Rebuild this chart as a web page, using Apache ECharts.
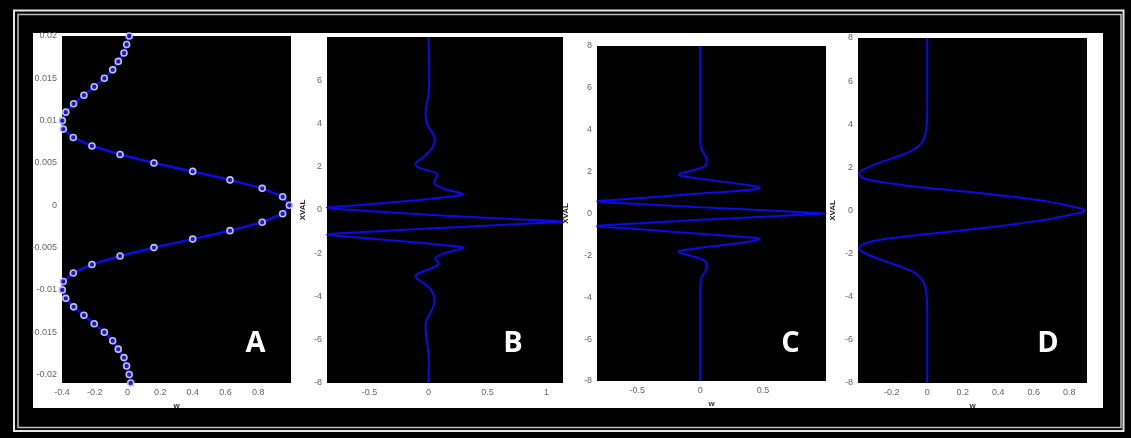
<!DOCTYPE html>
<html>
<head>
<meta charset="utf-8">
<script src="https://cdn.jsdelivr.net/npm/echarts@6/dist/echarts.min.js"></script>
<style>
  html, body { margin: 0; padding: 0; background: #000; }
  #chart { width: 1131px; height: 438px; }
</style>
</head>
<body>
<div id="chart"></div>
<script>
// ---- Panel A: sampled profile (depth vs. amplitude, one marker per sample) ----
const aDepth = [0.020, 0.019, 0.018, 0.017, 0.016, 0.015, 0.014, 0.013, 0.012, 0.011,
  0.010, 0.009, 0.008, 0.007, 0.006, 0.005, 0.004, 0.003, 0.002, 0.001, 0.000,
  -0.001, -0.002, -0.003, -0.004, -0.005, -0.006, -0.007, -0.008, -0.009, -0.010,
  -0.011, -0.012, -0.013, -0.014, -0.015, -0.016, -0.017, -0.018, -0.019, -0.020, -0.021];
const aW = [0.011, -0.005, -0.021, -0.056, -0.090, -0.141, -0.203, -0.266, -0.329, -0.377,
  -0.398, -0.392, -0.331, -0.217, -0.045, 0.162, 0.399, 0.627, 0.824, 0.949, 0.990,
  0.949, 0.824, 0.627, 0.399, 0.162, -0.045, -0.217, -0.331, -0.392, -0.398,
  -0.377, -0.329, -0.266, -0.203, -0.141, -0.090, -0.056, -0.021, -0.005, 0.011, 0.020];

// ---- Panel B ----
const bXval = [8, 7, 6, 5.3, 4.75, 4.35, 3.9, 3.5, 3.25, 2.9, 2.45, 2.15, 2.0, 1.85, 1.72, 1.6,
  1.45, 1.3, 1.15, 0.95, 0.8, 0.73, 0.66, 0.45, 0.22, 0.13, 0.1, 0.02, -0.22, -0.44, -0.52,
  -0.54, -0.56, -0.64, -0.86, -1.06, -1.13, -1.16, -1.27, -1.5, -1.68, -1.75, -1.82, -1.97,
  -2.18, -2.3, -2.45, -2.58, -2.75, -2.92, -3.07, -3.25, -3.55, -3.95, -4.23, -4.6, -5.0,
  -5.32, -5.8, -6.4, -7, -8];
const bW = [0, 0.004, 0.006, 0.0, -0.02, -0.025, -0.005, 0.04, 0.054, 0.035, -0.04, -0.11,
  -0.1, -0.02, 0.06, 0.075, 0.06, 0.05, 0.065, 0.15, 0.26, 0.30, 0.24, -0.1, -0.6, -0.84,
  -0.86, -0.7, 0.0, 0.8, 1.1, 1.14, 1.1, 0.8, 0.0, -0.7, -0.86, -0.84, -0.6, -0.1, 0.24,
  0.30, 0.26, 0.15, 0.065, 0.06, 0.085, 0.07, 0.0, -0.08, -0.11, -0.08, 0.0, 0.045, 0.051,
  0.03, -0.01, -0.025, -0.02, -0.005, 0.003, 0];

// ---- Panel C ----
const cXval = [8, 4, 3.3, 3.0, 2.7, 2.45, 2.25, 2.05, 1.93, 1.86, 1.78, 1.62, 1.38, 1.26,
  1.21, 1.15, 0.95, 0.7, 0.62, 0.58, 0.54, 0.3, 0.05, 0,
  -0.05, -0.3, -0.56, -0.61, -0.65, -0.72, -0.97, -1.16, -1.21, -1.26, -1.38, -1.6,
  -1.76, -1.82, -1.9, -2.05, -2.25, -2.45, -2.7, -3.0, -3.3, -4, -8];
const cW = [0, 0, 0.002, 0.015, 0.045, 0.053, 0.035, -0.06, -0.15, -0.17, -0.14, 0.05,
  0.35, 0.46, 0.47, 0.43, 0.0, -0.55, -0.78, -0.82, -0.76, 0.0, 0.85, 1.0,
  0.85, 0.0, -0.76, -0.82, -0.78, -0.55, 0.0, 0.43, 0.47, 0.46, 0.35, 0.05,
  -0.14, -0.17, -0.15, -0.06, 0.035, 0.053, 0.045, 0.015, 0.002, 0, 0];

// ---- Panel D ----
const dXval = [8, 5, 4.2, 3.8, 3.4, 3.1, 2.8, 2.55, 2.3, 2.05, 1.85, 1.72, 1.55, 1.4, 1.25,
  1.08, 0.93, 0.78, 0.6, 0.4, 0.2, 0.08, 0, -0.08, -0.2, -0.4, -0.6, -0.8, -0.96, -1.12,
  -1.28, -1.45, -1.6, -1.76, -1.9, -2.1, -2.35, -2.6, -2.85, -3.15, -3.45, -3.85, -4.2, -5, -8];
const dW = [0, 0, -0.001, -0.005, -0.015, -0.035, -0.08, -0.15, -0.24, -0.32, -0.37, -0.385,
  -0.37, -0.32, -0.2, -0.04, 0.15, 0.33, 0.52, 0.69, 0.81, 0.87, 0.89, 0.87, 0.81, 0.69,
  0.52, 0.33, 0.15, -0.04, -0.2, -0.32, -0.37, -0.385, -0.37, -0.32, -0.24, -0.15, -0.08,
  -0.035, -0.015, -0.005, -0.001, 0, 0];

// ---- Tick labels ----
const aYTicks = [-0.02, -0.015, -0.01, -0.005, 0, 0.005, 0.01, 0.015, 0.02];
const aXTicks = [-0.4, -0.2, 0, 0.2, 0.4, 0.6, 0.8];
const bYTicks = [-8, -6, -4, -2, 0, 2, 4, 6];
const bXTicks = [-0.5, 0, 0.5, 1];
const cYTicks = [-8, -6, -4, -2, 0, 2, 4, 6, 8];
const cXTicks = [-0.5, 0, 0.5];
const dYTicks = [-8, -6, -4, -2, 0, 2, 4, 6, 8];
const dXTicks = [-0.2, 0, 0.2, 0.4, 0.6, 0.8];

const panelLetters = ['A', 'B', 'C', 'D'];
const yName = 'XVAL';
const xName = 'w';

const FONT = '"Liberation Sans", "DejaVu Sans", sans-serif';
const LINE = '#0b0be6';
const LABEL = { fontSize: 9, color: '#666', fontFamily: FONT };

const zip = (xs, ys) => xs.map((x, i) => [x, ys[i]]);

// Panel geometry (plot rectangles)
const panels = [
  { left: 62,  top: 36, width: 229, height: 347 },
  { left: 327, top: 37, width: 236, height: 346 },
  { left: 597, top: 46, width: 229, height: 335 },
  { left: 858, top: 38, width: 229, height: 345 }
];

const xSpec = [
  { min: -0.4, max: 1.0, ticks: aXTicks, name: xName },
  { min: -0.86, max: 1.14, ticks: bXTicks, name: '' },
  { min: -0.82, max: 1.0, ticks: cXTicks, name: xName },
  { min: -0.39, max: 0.9, ticks: dXTicks, name: xName }
];
const ySpec = [
  { min: -0.021, max: 0.02, ticks: aYTicks, name: '', gap: 0 },
  { min: -8, max: 8, ticks: bYTicks, name: yName, gap: 20 },
  { min: -8, max: 8, ticks: cYTicks, name: yName, gap: 27 },
  { min: -8, max: 8, ticks: dYTicks, name: yName, gap: 21 }
];

const grid = panels.map(p => ({
  left: p.left, top: p.top, width: p.width, height: p.height,
  show: true, backgroundColor: '#000', borderWidth: 0, containLabel: false
}));

const xAxis = xSpec.map((s, i) => ({
  type: 'value', gridIndex: i, min: s.min, max: s.max,
  axisLine: { show: false }, splitLine: { show: false },
  axisTick: { show: false, customValues: s.ticks },
  axisLabel: Object.assign({ margin: 5, customValues: s.ticks }, LABEL),
  name: s.name, nameLocation: 'middle', nameGap: 15,
  nameTextStyle: { fontSize: 8, fontWeight: 'bold', color: '#333', fontFamily: FONT }
}));

const yAxis = ySpec.map((s, i) => ({
  type: 'value', gridIndex: i, min: s.min, max: s.max,
  axisLine: { show: false }, splitLine: { show: false },
  axisTick: { show: false, customValues: s.ticks },
  axisLabel: Object.assign({ margin: 5, customValues: s.ticks }, LABEL),
  name: s.name, nameLocation: 'middle', nameRotate: 90, nameGap: s.gap,
  nameTextStyle: { fontSize: 8, fontWeight: 'bold', color: '#222', fontFamily: FONT }
}));

const series = [
  {
    type: 'line', xAxisIndex: 0, yAxisIndex: 0, data: zip(aW, aDepth),
    lineStyle: { color: LINE, width: 2.5 },
    symbol: 'circle', symbolSize: 6, showAllSymbol: true,
    itemStyle: { color: '#1a1ad0', borderColor: '#bfc0ee', borderWidth: 1.6 },
    silent: true, animation: false
  },
  { data: zip(bW, bXval) },
  { data: zip(cW, cXval) },
  { data: zip(dW, dXval) }
].map((s, i) => i === 0 ? s : Object.assign({
  type: 'line', xAxisIndex: i, yAxisIndex: i, smooth: 0.25, showSymbol: false,
  lineStyle: { color: LINE, width: 2 }, silent: true, animation: false
}, s));

const letterPos = [[255.5, 344], [513, 344], [790.5, 344], [1048, 344]];

const graphic = [
  { type: 'rect', z: -100, shape: { x: 33, y: 33, width: 1070, height: 375 }, style: { fill: '#fff' } },
  { type: 'rect', z: -100, shape: { x: 14, y: 10.5, width: 1109.5, height: 420.5 },
    style: { fill: 'none', stroke: '#e6e6e6', lineWidth: 2 } },
  { type: 'rect', z: -100, shape: { x: 18, y: 14.5, width: 1103, height: 413 },
    style: { fill: 'none', stroke: '#bdbdbd', lineWidth: 1.5 } }
].concat(panelLetters.map((t, i) => ({
  type: 'text', z: 100, x: letterPos[i][0], y: letterPos[i][1],
  style: {
    text: t, fill: '#fff', align: 'center', verticalAlign: 'middle',
    font: 'bold 29px "Open Sans", "DejaVu Sans", sans-serif'
  }
})));

const chart = echarts.init(document.getElementById('chart'), null, { renderer: 'canvas' });
chart.setOption({
  backgroundColor: '#000',
  animation: false,
  grid, xAxis, yAxis, series, graphic
});
</script>
</body>
</html>
